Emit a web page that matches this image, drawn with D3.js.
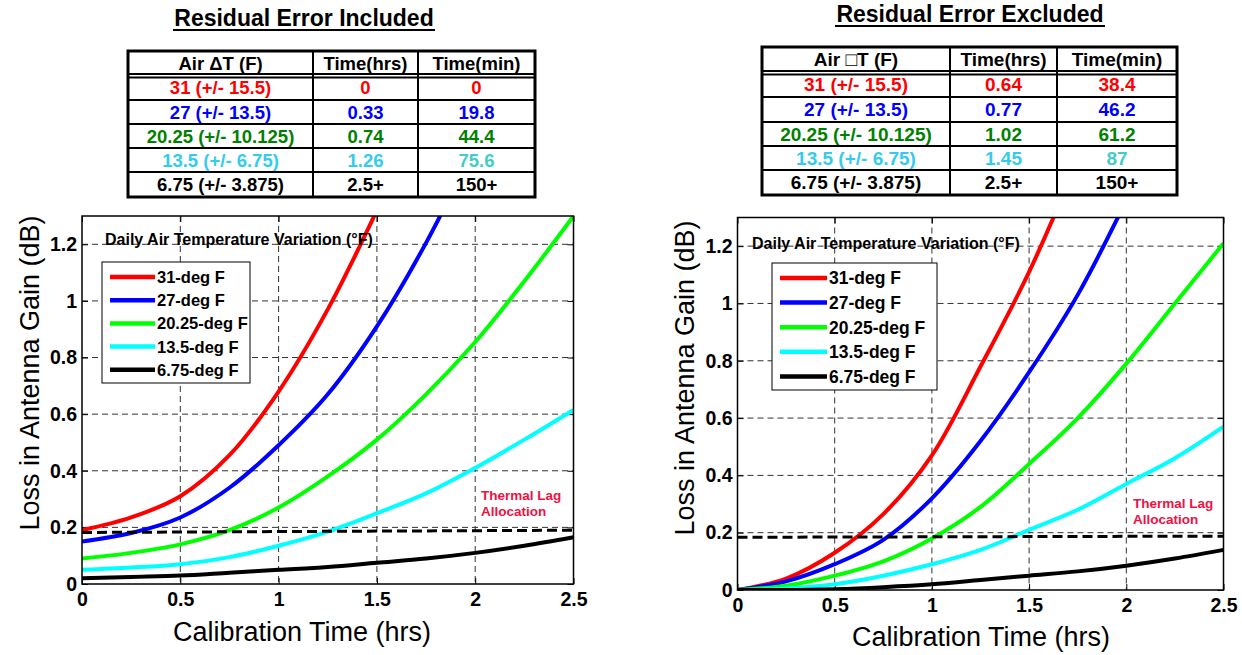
<!DOCTYPE html>
<html>
<head>
<meta charset="utf-8">
<script src="https://cdn.jsdelivr.net/npm/d3@7"></script>
<style>
body { margin: 0; background: #fff; }
svg { font-family: "Liberation Sans", Arial, sans-serif; }
</style>
</head>
<body>
<script>
// ---- data ----
var times = [0, 0.25, 0.5, 0.75, 1, 1.25, 1.5, 1.75, 2, 2.25, 2.5];
var seriesNames = ["31-deg F", "27-deg F", "20.25-deg F", "13.5-deg F", "6.75-deg F"];
var lineColors = ["#ff0000", "#0000ff", "#00ff00", "#00ffff", "#000000"];

// residual error included (left)
var inclRed   = [0.19, 0.235, 0.31, 0.455, 0.68, 0.97, 1.32];
var inclBlue  = [0.15, 0.18, 0.235, 0.34, 0.49, 0.67, 0.91, 1.205, 1.55];
var inclGreen = [0.09, 0.11, 0.14, 0.19, 0.27, 0.38, 0.51, 0.67, 0.855, 1.07, 1.3];
var inclCyan  = [0.05, 0.058, 0.07, 0.095, 0.135, 0.185, 0.25, 0.32, 0.41, 0.51, 0.615];
var inclBlack = [0.02, 0.025, 0.03, 0.04, 0.05, 0.06, 0.075, 0.09, 0.11, 0.135, 0.165];

// residual error excluded (right)
var exclRed   = [0, 0.04, 0.13, 0.265, 0.47, 0.78, 1.11, 1.5];
var exclBlue  = [0, 0.03, 0.09, 0.175, 0.32, 0.52, 0.76, 1.03, 1.36];
var exclGreen = [0, 0.015, 0.05, 0.1, 0.18, 0.29, 0.44, 0.6, 0.79, 1.0, 1.21];
var exclCyan  = [0, 0.005, 0.02, 0.05, 0.09, 0.14, 0.21, 0.28, 0.37, 0.46, 0.57];
var exclBlack = [0, 0, 0.003, 0.01, 0.02, 0.035, 0.05, 0.065, 0.085, 0.11, 0.14];

// thermal lag allocation line, value at t=0 and t=2.5
var inclThreshold = [0.182, 0.19];
var exclThreshold = [0.184, 0.188];

var xTicks = [0, 0.5, 1, 1.5, 2, 2.5];
var yTicks = [0, 0.2, 0.4, 0.6, 0.8, 1, 1.2];

// tables
var inclHeader = ["Air \u0394T (F)", "Time(hrs)", "Time(min)"];
var exclHeader = ["Air \u25A1T (F)", "Time(hrs)", "Time(min)"];
var deltaT = ["31 (+/- 15.5)", "27 (+/- 13.5)", "20.25 (+/- 10.125)", "13.5 (+/- 6.75)", "6.75 (+/- 3.875)"];
var inclHrs = ["0", "0.33", "0.74", "1.26", "2.5+"];
var inclMin = ["0", "19.8", "44.4", "75.6", "150+"];
var exclHrs = ["0.64", "0.77", "1.02", "1.45", "2.5+"];
var exclMin = ["38.4", "46.2", "61.2", "87", "150+"];
var textColors = ["#ff0000", "#0000ff", "#008000", "#33ccee", "#000000"];
var minColors  = ["#ff0000", "#0000ff", "#008000", "#44cccc", "#000000"];

var svg = d3.select("body").append("svg").attr("width", 1242).attr("height", 655);

function drawTable(t) {
  var g = svg.append("g");
  g.append("text")
    .attr("x", t.titleX).attr("y", t.titleY)
    .attr("text-anchor", "middle")
    .attr("font-size", 23).attr("font-weight", "bold")
    .text(t.title);
  g.append("line")
    .attr("x1", t.titleX - t.titleW / 2).attr("x2", t.titleX + t.titleW / 2)
    .attr("y1", t.titleY + 4).attr("y2", t.titleY + 4)
    .attr("stroke", "#000").attr("stroke-width", 2);

  var cols = t.cols, rows = t.rows;
  // outer box
  g.append("rect")
    .attr("x", cols[0]).attr("y", rows[0])
    .attr("width", cols[3] - cols[0]).attr("height", rows[rows.length - 1] - rows[0])
    .attr("fill", "none").attr("stroke", "#000").attr("stroke-width", 3);
  // inner lines
  g.selectAll("line.v").data(cols.slice(1, 3)).enter().append("line")
    .attr("x1", function(d){ return d; }).attr("x2", function(d){ return d; })
    .attr("y1", rows[0]).attr("y2", rows[rows.length - 1])
    .attr("stroke", "#000").attr("stroke-width", 2);
  g.selectAll("line.h").data(rows.slice(1, rows.length - 1)).enter().append("line")
    .attr("x1", cols[0]).attr("x2", cols[3])
    .attr("y1", function(d){ return d; }).attr("y2", function(d){ return d; })
    .attr("stroke", "#000").attr("stroke-width", 2);
  g.append("line")
    .attr("x1", cols[0]).attr("x2", cols[3])
    .attr("y1", t.headerLine).attr("y2", t.headerLine)
    .attr("stroke", "#000").attr("stroke-width", 2);

  var cx = [ (cols[0]+cols[1])/2, (cols[1]+cols[2])/2, (cols[2]+cols[3])/2 ];
  g.selectAll("text.hd").data(t.header).enter().append("text")
    .attr("x", function(d, i){ return cx[i]; })
    .attr("y", (t.headerLine + rows[0]) / 2 - 1)
    .attr("dy", "0.35em")
    .attr("text-anchor", "middle")
    .attr("font-size", t.fs).attr("font-weight", "bold")
    .text(function(d){ return d; });

  var body = rows.slice(1);
  for (var c = 0; c < 3; c++) {
    var vals = [deltaT, t.hrs, t.min][c];
    var cols2 = c == 2 ? minColors : textColors;
    g.selectAll("text.c" + c).data(vals).enter().append("text")
      .attr("x", cx[c])
      .attr("y", function(d, i){ return (body[i] + body[i + 1]) / 2; })
      .attr("dy", "0.36em")
      .attr("text-anchor", "middle")
      .attr("font-size", t.fs).attr("font-weight", "bold")
      .attr("fill", function(d, i){ return cols2[i]; })
      .text(function(d){ return d; });
  }
}

drawTable({title: "Residual Error Included", titleX: 304, titleY: 26, titleW: 262, fs: 18.5,
  cols: [128, 313, 418, 535], rows: [51, 74, 100, 124, 148, 172, 197], headerLine: 77.5,
  header: inclHeader, hrs: inclHrs, min: inclMin});
drawTable({title: "Residual Error Excluded", titleX: 970, titleY: 22, titleW: 270, fs: 19,
  cols: [762, 950, 1057, 1177], rows: [47, 71, 97, 122, 146, 170, 195], headerLine: 74.5,
  header: exclHeader, hrs: exclHrs, min: exclMin});

function drawPanel(p) {
  var x = d3.scaleLinear().domain([0, 2.5]).range([p.x0, p.x1]);
  var y = d3.scaleLinear().domain([0, 1.3]).range([p.y1, p.y0]);
  var g = svg.append("g");

  g.append("clipPath").attr("id", p.id)
    .append("rect").attr("x", p.x0).attr("y", p.y0)
    .attr("width", p.x1 - p.x0).attr("height", p.y1 - p.y0);

  // dashed grid
  g.selectAll("line.gx").data(xTicks.slice(1, -1)).enter().append("line")
    .attr("x1", function(d){ return x(d); }).attr("x2", function(d){ return x(d); })
    .attr("y1", p.y0).attr("y2", p.y1)
    .attr("stroke", "#333").attr("stroke-width", 1).attr("stroke-dasharray", "6,4");
  g.selectAll("line.gy").data(yTicks.slice(1)).enter().append("line")
    .attr("x1", p.x0).attr("x2", p.x1)
    .attr("y1", function(d){ return y(d); }).attr("y2", function(d){ return y(d); })
    .attr("stroke", "#333").attr("stroke-width", 1).attr("stroke-dasharray", "6,4");

  // axes
  g.append("g").attr("transform", "translate(0," + p.y1 + ")")
    .call(d3.axisBottom(x).tickValues(xTicks).tickFormat(d3.format("")).tickSizeInner(-6).tickSizeOuter(0).tickPadding(8.5));
  g.append("g").attr("transform", "translate(" + p.x0 + ",0)")
    .call(d3.axisLeft(y).tickValues(yTicks).tickFormat(d3.format("")).tickSizeInner(-6).tickSizeOuter(0).tickPadding(5));
  g.append("g").attr("transform", "translate(0," + p.y0 + ")")
    .call(d3.axisTop(x).tickValues(xTicks).tickFormat("").tickSizeInner(-6).tickSizeOuter(0));
  g.append("g").attr("transform", "translate(" + p.x1 + ",0)")
    .call(d3.axisRight(y).tickValues(yTicks).tickFormat("").tickSizeInner(-6).tickSizeOuter(0));
  g.selectAll(".domain").remove();
  g.selectAll(".tick line").attr("stroke", "#000");
  g.selectAll(".tick text").attr("font-family", "Liberation Sans, Arial, sans-serif")
    .attr("font-size", 19.5).attr("font-weight", "bold").attr("fill", "#000");

  // curves
  var line = d3.line()
    .x(function(d){ return x(d[0]); })
    .y(function(d){ return y(d[1]); })
    .curve(d3.curveCatmullRom.alpha(0.5));
  var curves = g.append("g").attr("clip-path", "url(#" + p.id + ")");
  p.series.forEach(function(vals, i) {
    var pts = vals.map(function(v, j){ return [times[j], v]; });
    curves.append("path").datum(pts)
      .attr("d", line)
      .attr("fill", "none")
      .attr("stroke", lineColors[i])
      .attr("stroke-width", 4);
  });
  // thermal lag allocation
  curves.append("line")
    .attr("x1", x(0)).attr("x2", x(2.5))
    .attr("y1", y(p.threshold[0])).attr("y2", y(p.threshold[1]))
    .attr("stroke", "#000").attr("stroke-width", 3).attr("stroke-dasharray", "10,5");

  // frame
  g.append("rect").attr("x", p.x0).attr("y", p.y0)
    .attr("width", p.x1 - p.x0).attr("height", p.y1 - p.y0)
    .attr("fill", "none").attr("stroke", "#000").attr("stroke-width", 1.5);

  // thermal lag label
  g.append("text").attr("x", p.lagX).attr("y", p.lagY)
    .attr("font-size", 13.5).attr("font-weight", "bold").attr("fill", "#ee1144")
    .text("Thermal Lag");
  g.append("text").attr("x", p.lagX).attr("y", p.lagY + 16)
    .attr("font-size", 13.5).attr("font-weight", "bold").attr("fill", "#ee1144")
    .text("Allocation");

  // legend
  g.append("text").attr("x", p.legTitleX).attr("y", p.legTitleY)
    .attr("font-size", 16).attr("font-weight", "bold")
    .text("Daily Air Temperature Variation (\u00B0F)");
  var lb = p.legend;
  g.append("rect").attr("x", lb.x).attr("y", lb.y).attr("width", lb.w).attr("height", lb.h)
    .attr("fill", "#fff").attr("stroke", "#000").attr("stroke-width", 1);
  var items = g.selectAll("g.leg").data(seriesNames).enter().append("g")
    .attr("transform", function(d, i){ return "translate(0," + (lb.first + i * lb.step) + ")"; });
  items.append("line")
    .attr("x1", lb.x + 8).attr("x2", lb.x + 8 + lb.lineW)
    .attr("stroke", function(d, i){ return lineColors[i]; })
    .attr("stroke-width", 4.5);
  items.append("text")
    .attr("x", lb.x + 10 + lb.lineW).attr("dy", "0.36em")
    .attr("font-size", lb.fs).attr("font-weight", "bold")
    .text(function(d){ return d; });

  // axis titles
  g.append("text")
    .attr("x", p.xTitleX).attr("y", p.xTitleY)
    .attr("text-anchor", "middle").attr("font-size", 27)
    .text("Calibration Time (hrs)");
  g.append("text")
    .attr("transform", "translate(" + p.yTitleX + "," + p.yTitleY + ") rotate(-90)")
    .attr("text-anchor", "middle").attr("font-size", 27)
    .text("Loss in Antenna Gain (dB)");
}

drawPanel({id: "clipL", x0: 82, x1: 573.5, y0: 216, y1: 584,
  series: [inclRed, inclBlue, inclGreen, inclCyan, inclBlack], threshold: inclThreshold,
  lagX: 481, lagY: 500, legTitleX: 105, legTitleY: 245,
  legend: {x: 102, y: 262, w: 148, h: 121, first: 277, step: 23.2, lineW: 45, fs: 16.5},
  xTitleX: 302, xTitleY: 641, yTitleX: 39, yTitleY: 373});

drawPanel({id: "clipR", x0: 737.5, x1: 1223.5, y0: 217.5, y1: 590,
  series: [exclRed, exclBlue, exclGreen, exclCyan, exclBlack], threshold: exclThreshold,
  lagX: 1133, lagY: 508, legTitleX: 752, legTitleY: 249,
  legend: {x: 772, y: 263, w: 165, h: 127, first: 278, step: 24.6, lineW: 47, fs: 17.5},
  xTitleX: 981, xTitleY: 646, yTitleX: 694, yTitleY: 378});
</script>
</body>
</html>
